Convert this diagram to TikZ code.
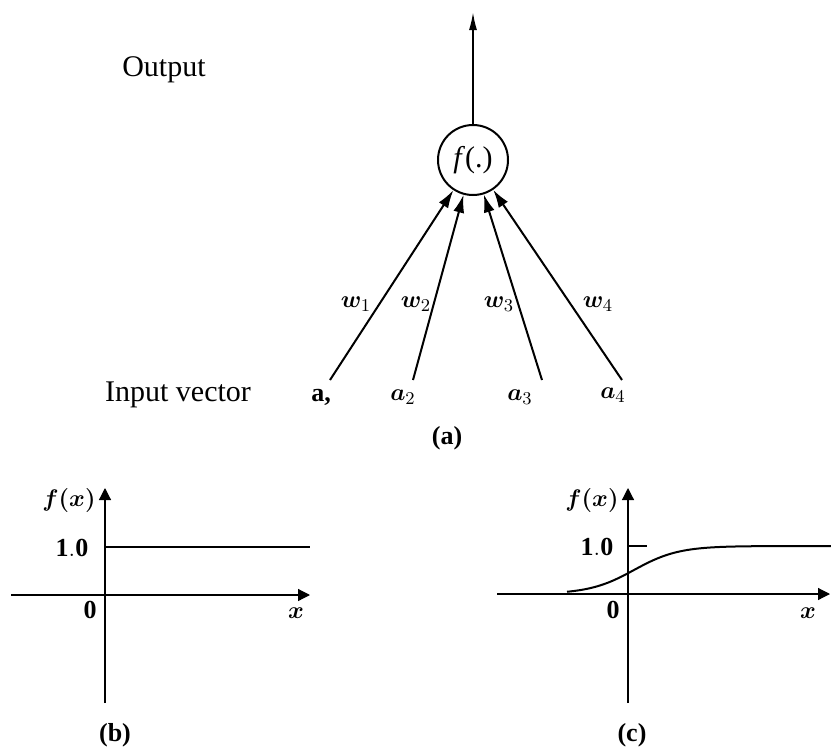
\documentclass[tikz,border=0pt]{standalone}
\usepackage{fontspec}
\setmainfont{Liberation Serif}
\usepackage{amsmath,bm}
\usetikzlibrary{arrows.meta}
\begin{document}
\begin{tikzpicture}[x=0.5pt,y=-0.5pt,
  neuron/.style={draw,circle,line width=1pt,minimum size=35pt,inner sep=0pt,font=\fontsize{15}{17}\selectfont},
  inarrow/.style={line width=1pt,-{Latex[length=9pt,width=5.5pt]}},
  outarrow/.style={line width=0.9pt,-{Latex[length=9pt,width=4pt]}},
  axis/.style={line width=0.6pt,-{Triangle[length=6pt,width=6pt]}},
  wlabel/.style={font=\fontsize{13}{15}\selectfont},
  alabel/.style={font=\fontsize{13}{15}\selectfont},
  bigtext/.style={font=\fontsize{15}{18}\selectfont},
  glabel/.style={font=\fontsize{13}{15}\selectfont}]
\useasboundingbox (0,0) rectangle (831,750);

% (a) neuron
\node[neuron] (fn) at (473,160) {\textit{f}(.)};
\coordinate (top) at (473,12);
\draw[outarrow] (fn) -- (top);
\node[bigtext] (out) at (164,70) {Output};
\node[bigtext] (inv) at (178,395) {Input vector};

\coordinate (i1) at (330,380);
\coordinate (i2) at (413,380);
\coordinate (i3) at (542,380);
\coordinate (i4) at (622,380);
\draw[inarrow] (i1) -- (fn);
\draw[inarrow] (i2) -- (fn);
\draw[inarrow] (i3) -- (fn);
\draw[inarrow] (i4) -- (fn);

\node[wlabel] (w1) at (356,304) {$\bm{w}_1$};
\node[wlabel] (w2) at (416,304) {$\bm{w}_2$};
\node[wlabel] (w3) at (499,304) {$\bm{w}_3$};
\node[wlabel] (w4) at (598,304) {$\bm{w}_4$};

\node[alabel] (a1) at (321,397) {$\mathbf{a}$\textbf{,}};
\node[alabel] (a2) at (403,397) {$\bm{a}_2$};
\node[alabel] (a3) at (520,397) {$\bm{a}_3$};
\node[alabel] (a4) at (613,395) {$\bm{a}_4$};
\node[glabel] (la) at (447,438) {\textbf{(a)}};

% (b) step function
\coordinate (bxl) at (11,595);
\coordinate (bxr) at (310,595);
\coordinate (byb) at (105,703);
\coordinate (byt) at (105,488);
\draw[axis] (bxl) -- (bxr);
\draw[axis] (byb) -- (byt);
\coordinate (bs0) at (105,588);
\coordinate (bs1) at (105,530);
\coordinate (bh0) at (105,547);
\coordinate (bh1) at (310,547);
\draw[line width=1pt] (bs0) -- (bs1);
\draw[line width=1pt] (bh0) -- (bh1);
\node[glabel] (bf) at (69,500) {$\bm{f(x)}$};
\node[glabel] (b1) at (72,548) {$\mathbf{1.0}$};
\node[glabel] (b0) at (90,610) {$\mathbf{0}$};
\node[glabel] (bx) at (296,613) {$\bm{x}$};
\node[glabel] (lb) at (115,735) {\textbf{(b)}};

% (c) sigmoid
\coordinate (cxl) at (497,594);
\coordinate (cxr) at (830,594);
\coordinate (cyb) at (628,703);
\coordinate (cyt) at (628,488);
\draw[axis] (cxl) -- (cxr);
\draw[axis] (cyb) -- (cyt);
\coordinate (ct0) at (628,546);
\coordinate (ct1) at (647,546);
\draw[line width=0.6pt] (ct0) -- (ct1);
\draw[line width=1pt,domain=567:831,samples=80,smooth]
  plot ({\x},{594-48/(1+exp(-0.045*(\x-634)))});
\node[glabel] (cf) at (592,500) {$\bm{f(x)}$};
\node[glabel] (c1) at (597,547) {$\mathbf{1.0}$};
\node[glabel] (c0) at (613,610) {$\mathbf{0}$};
\node[glabel] (cx) at (808,613) {$\bm{x}$};
\node[glabel] (lc) at (632,735) {\textbf{(c)}};
\end{tikzpicture}
\end{document}
